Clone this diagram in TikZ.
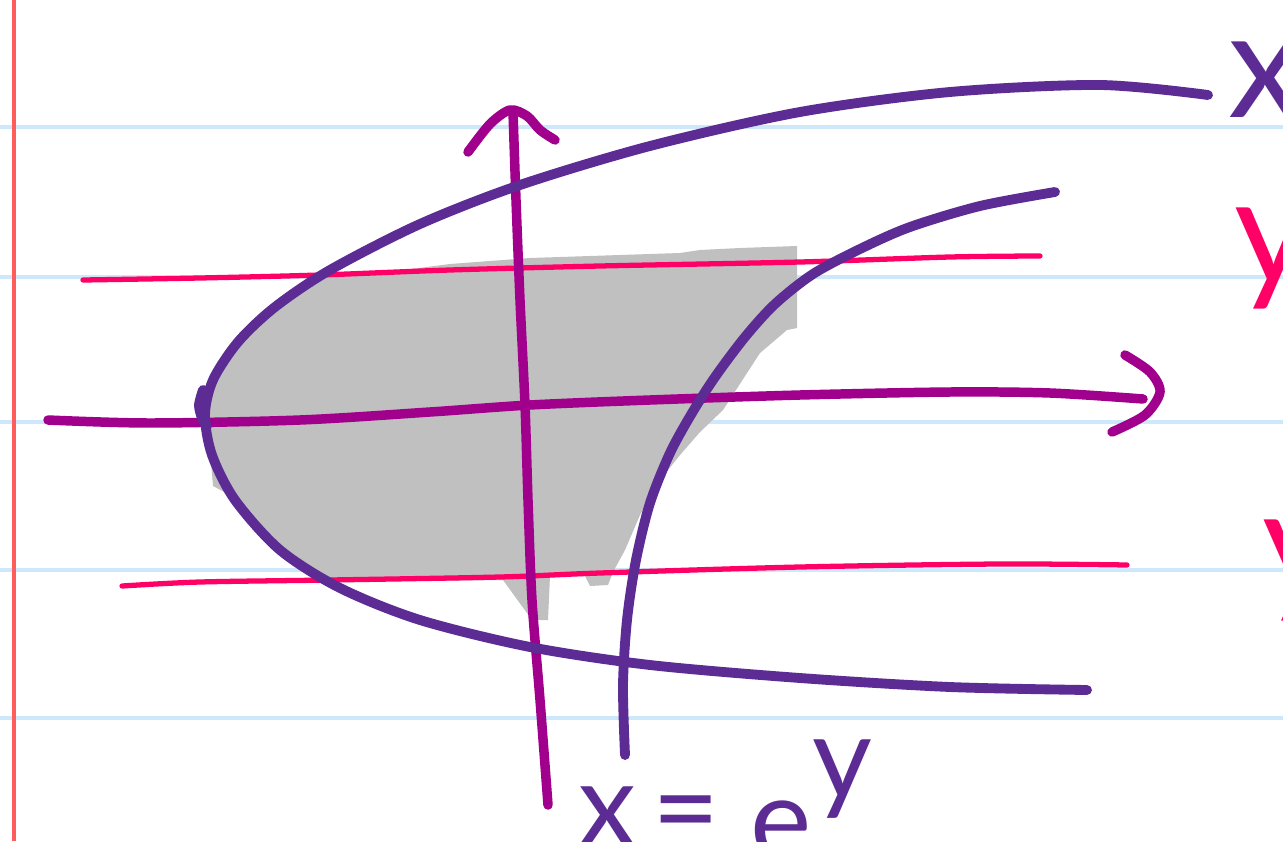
\documentclass[tikz,border=0pt]{standalone}
\usepackage{fontspec}
\setmainfont{Lato}
\definecolor{pur}{RGB}{92,44,148}
\definecolor{mag}{RGB}{160,0,140}
\definecolor{pnk}{RGB}{255,0,102}
\definecolor{rule}{RGB}{205,232,250}
\definecolor{margin}{RGB}{255,92,92}
\definecolor{regiongray}{RGB}{192,192,192}
\tikzset{
  ruleline/.style={rule, line width=2.3pt},
  curvepen/.style={pur, line width=5.6pt, line cap=round, line join=round},
  axispen/.style={mag, line width=5.4pt, line cap=round, line join=round},
  boundpen/.style={pnk, line width=3pt, line cap=round},
  bigtext/.style={inner sep=0pt, font=\fontsize{85}{85}\selectfont},
  eqtext/.style={inner sep=0pt, pur, font=\fontsize{66}{66}\selectfont},
}
\begin{document}
\begin{tikzpicture}[x=0.02cm,y=-0.02cm]
\useasboundingbox (0,0) rectangle (1283,841);
\clip (0,0) rectangle (1283,841);
\fill[white] (0,0) rectangle (1283,841);
% notebook rules
\foreach \yy in {127,277,422,570,718} \draw[ruleline] (0,\yy) -- (1283,\yy);
\draw[margin, line width=2.8pt] (14,0) -- (14,841);
% shaded region
\fill[regiongray] (205,415) -- (208,392) -- (222,365) -- (245,335) -- (280,302) -- (318,278)
  -- (380,273) -- (450,264) -- (530,258) -- (620,255) -- (680,253) -- (700,250) -- (740,248)
  -- (797,246) -- (797,328) -- (787,330) -- (760,353) -- (747,373) -- (723,410) -- (700,432)
  -- (680,455) -- (660,480) -- (640,515) -- (625,550) -- (613,572) -- (608,585) -- (590,586)
  -- (585,576) -- (550,576) -- (548,620) -- (532,620) -- (503,580) -- (420,581) -- (330,580)
  -- (290,558) -- (255,527) -- (230,495) -- (213,486) -- (211,462) -- (207,440) -- cycle;
% boundary lines (pink)
\draw[boundpen] plot[smooth] coordinates {(83,280) (200,278) (320,275) (450,270) (600,266) (800,262) (950,257) (1040,256)};
\draw[boundpen] plot[smooth] coordinates {(122,586) (200,582) (330,580) (500,577) (600,573) (800,567) (1000,564) (1127,565)};
% axes
\draw[axispen] plot[smooth] coordinates {(48,420) (150,423) (300,420) (430,412) (530,405) (650,400) (800,395) (950,392) (1050,393) (1143,399)};
\draw[axispen] plot[smooth] coordinates {(1125,355) (1150,372) (1160,392) (1145,415) (1112,432)};
\draw[axispen] plot[smooth] coordinates {(548,805) (540,700) (532,600) (528,500) (525,405) (520,300) (516,200) (513,112)};
\draw[axispen] plot[smooth] coordinates {(468,152) (490,124) (510,110) (527,116) (540,130) (555,140)};
% outer curve
\draw[curvepen] plot[smooth] coordinates {(1208,95) (1100,85) (950,92) (800,112) (650,146) (520,185) (420,224) (330,270) (275,307) (238,342) (213,380) (205,415) (212,455) (235,500) (280,550) (340,588) (420,620) (530,647) (650,665) (800,678) (950,687) (1087,690)};
\draw[curvepen] plot[smooth] coordinates {(203,390) (199,405) (202,418) (207,426)};
% inner curve x = e^y
\draw[curvepen] plot[smooth] coordinates {(1055,192) (980,206) (910,227) (860,249) (813,274) (775,304) (745,337) (715,377) (692,413) (670,453) (650,503) (636,560) (627,620) (623,685) (625,755)};
% labels
\node[bigtext, pur, anchor=base west] (lx) at (1228,118) {x};
\node[bigtext, pnk, anchor=base west] (ly1) at (1234,283) {y};
\node[bigtext, pnk, anchor=base west] (ly2) at (1262,595) {y};
\node[eqtext, anchor=base west] (ex) at (578,845) {x};
\node[eqtext, anchor=center] (eq) at (686,822) {=};
\node[eqtext, anchor=base west] (ee) at (750,860) {e};
\node[eqtext, anchor=base west] (ey) at (812,798) {y};
\end{tikzpicture}
\end{document}
